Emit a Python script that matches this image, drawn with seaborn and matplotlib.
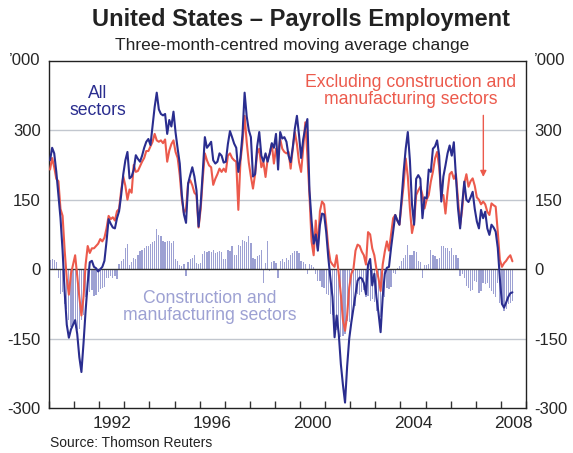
import pandas as pd
import seaborn as sns
import matplotlib.pyplot as plt

# Monthly, Jan 1990 - Jun 2008, '000 (three-month-centred average change)
all_sectors = [
    235, 262, 250, 210, 160, 110, 40, -50, -120, -148,
    -130, -120, -110, -140, -190, -222, -160, -90, -30, 15,
    18, 5, 2, -5, 0, 5, 18, 60, 108, 98,
    90, 88, 110, 125, 160, 205, 235, 253, 196, 200,
    215, 246, 238, 232, 245, 262, 275, 281, 268, 310,
    350, 381, 345, 335, 332, 335, 292, 322, 308, 340,
    295, 260, 228, 160, 118, 100, 185, 203, 220, 200,
    170, 92, 140, 210, 285, 262, 268, 275, 235, 228,
    232, 250, 245, 230, 232, 270, 298, 285, 271, 262,
    210, 240, 292, 381, 330, 300, 285, 200, 205, 265,
    296, 245, 232, 250, 232, 250, 272, 262, 292, 215,
    296, 282, 285, 275, 245, 231, 262, 303, 331, 290,
    240, 280, 305, 324, 170, 105, 55, 75, 40, 95,
    120, 118, 80, 25, -20, -60, -147, -100, -140, -205,
    -250, -288, -210, -150, -115, -85, -55, -25, -18, -20,
    -30, -54, 10, 22, -35, -10, -60, -95, -136, -60,
    -10, 3, 5, 46, 81, 117, 105, 96, 150, 210,
    260, 296, 235, 140, 96, 195, 203, 195, 110, 155,
    153, 215, 210, 260, 265, 278, 245, 146, 200, 224,
    250, 267, 245, 274, 200, 131, 88, 140, 189, 150,
    145, 155, 167, 130, 103, 88, 128, 110, 124, 88,
    74, 96, 90, 81, 46, -20, -75, -83, -72, -60,
    -52, -50]

excl_constr_manuf = [
    215, 240, 220, 195, 190, 130, 115, 40, -20, -55,
    -10, 10, 30, -15, -60, -100, -60, 10, 50, 35,
    45, 45, 50, 55, 65, 60, 68, 88, 115, 108,
    112, 105, 125, 130, 170, 200, 180, 150, 172, 165,
    225, 210, 212, 222, 232, 240, 255, 255, 265, 275,
    292, 278, 275, 278, 272, 280, 232, 256, 270, 278,
    253, 240, 203, 150, 121, 130, 185, 192, 181, 165,
    160, 90, 130, 196, 250, 235, 224, 220, 182, 195,
    205, 217, 210, 217, 210, 245, 250, 240, 235, 232,
    128, 232, 274, 331, 274, 230, 200, 174, 205, 250,
    260, 220, 231, 199, 238, 249, 270, 228, 260, 249,
    281, 260, 253, 250, 253, 217, 260, 296, 270, 231,
    210, 260, 317, 246, 160, 60, 30, 105, 45, 125,
    146, 140, 96, 46, 17, 10, 5, 30, -10, -55,
    -110, -133, -100, -40, -10, 0, 40, 53, 50, 38,
    30, 10, 80, 75, 45, 30, 0, -20, -47, 10,
    38, 60, 40, 75, 110, 117, 105, 96, 140, 181,
    239, 200, 131, 78, 100, 160, 170, 178, 160, 131,
    150, 160, 189, 210, 239, 253, 220, 160, 160, 120,
    167, 205, 210, 195, 205, 150, 95, 130, 185, 205,
    178, 190, 196, 180, 155, 150, 140, 146, 140, 124,
    117, 142, 138, 135, 81, 20, 5, 13, 18, 25,
    30, 17]

constr_manuf = [
    20, 22, 20, 15, -20, -54, -50, -75, -85, -110,
    -125, -120, -128, -132, -130, -110, -100, -60, -55, -50,
    -45, -58, -55, -50, -42, -40, -38, -20, -18, -15,
    -20, -15, -22, 12, 18, 22, 45, 54, 10, 15,
    25, 22, 30, 39, 42, 46, 50, 49, 55, 58,
    61, 86, 74, 72, 60, 58, 60, 61, 57, 60,
    21, 18, 8, 6, 11, -15, 15, 22, 25, 31,
    14, 12, 14, 32, 39, 38, 40, 36, 42, 35,
    38, 40, 36, 21, 22, 42, 40, 49, 31, 30,
    53, 50, 64, 60, 58, 71, 56, 24, 22, 28,
    30, 42, -29, 14, 60, -4, 15, 17, 14, -19,
    18, 22, 15, 24, 20, 30, 35, 39, 40, 35,
    18, 15, 11, -11, 11, 8, 4, -11, -25, -25,
    -39, -40, -54, -55, -96, -100, -120, -132, -135, -146,
    -145, -140, -111, -115, -110, -82, -80, -54, -55, -50,
    -46, -61, -58, -69, -65, -70, -90, -88, -104, -61,
    -60, -40, -42, -38, -8, -10, 3, 6, 17, 24,
    30, 53, 31, 30, 39, 38, 17, 15, -19, 10,
    10, 12, 42, 31, 28, 21, 24, 49, 50, 46,
    45, 40, 46, 31, 30, 24, -15, -10, -20, -36,
    -40, -47, -45, -26, -28, -51, -47, -30, -32, -30,
    -40, -47, -54, -61, -30, -72, -70, -90, -86, -76,
    -72, -69]

year_labels = ['1992', '1996', '2000', '2004', '2008']
y_ticks = [-300, -150, 0, 150, 300]

blue = '#2a2d8f'
red = '#ec5a4c'
lilac = '#9da1d3'
grid_col = '#c2c7cf'

months = pd.date_range('1990-01-01', periods=len(all_sectors), freq='MS')
df = pd.DataFrame({
    'year': months.year + (months.month - 0.5) / 12,
    'all': all_sectors,
    'excl': excl_constr_manuf,
    'cm': constr_manuf,
})

sns.set_theme(style='white')
plt.rcParams['font.family'] = ['Liberation Sans', 'DejaVu Sans']

fig = plt.figure(figsize=(5.73, 4.53), dpi=100)
ax = fig.add_axes([0.0855, 0.099, 0.8325, 0.767])

# grid lines first, zero line in dark grey
for v in [-150, 150, 300]:
    ax.axhline(v, color=grid_col, lw=1, zorder=0)

sns.barplot(data=df, x='year', y='cm', native_scale=True, color=lilac,
            saturation=1, width=0.6, linewidth=0, errorbar=None, ax=ax,
            zorder=1)
ax.axhline(0, color='#333333', lw=1, zorder=2)

sns.lineplot(data=df, x='year', y='excl', color=red, lw=1.5, ax=ax, zorder=3)
sns.lineplot(data=df, x='year', y='all', color=blue, lw=1.5, ax=ax, zorder=4)

ax.set_xlim(1990, 2009)
ax.set_ylim(-300, 450)
ax.set_xlabel('')
ax.set_ylabel('')

# y labels on both sides
ax.set_yticks(y_ticks)
ax.set_yticklabels([str(v) for v in y_ticks])
ax.tick_params(axis='y', length=0, labelsize=12, labelright=True,
               labelleft=True, pad=6)
ax.text(-0.017, 1.0, '\u2019000', transform=ax.transAxes, ha='right',
        va='center', fontsize=12)
ax.text(1.017, 1.0, '\u2019000', transform=ax.transAxes, ha='left',
        va='center', fontsize=12)

# year ticks inside, labels mid-year
ax.set_xticks(range(1990, 2010))
ax.set_xticklabels([])
ax.set_xticks([int(y) + 0.5 for y in year_labels], minor=True)
ax.set_xticklabels(year_labels, minor=True)
ax.tick_params(axis='x', which='major', direction='in', length=5, width=1,
               color='#333333', bottom=True, top=False)
ax.tick_params(axis='x', which='minor', length=0, labelsize=12.5, pad=6)

for s in ax.spines.values():
    s.set_color('#222222')
    s.set_linewidth(1)

# series labels
ax.text(1991.95, 360, 'All\nsectors', color=blue, fontsize=12.7,
        ha='center', va='center', linespacing=1.0)
ax.text(2004.4, 384, 'Excluding construction and\nmanufacturing sectors',
        color=red, fontsize=12.7, ha='center', va='center', linespacing=1.0)
ax.text(1996.4, -82, 'Construction and\nmanufacturing sectors', color=lilac,
        fontsize=12.7, ha='center', va='center', linespacing=1.0)
ax.annotate('', xy=(2007.3, 193), xytext=(2007.3, 338),
            arrowprops=dict(arrowstyle='-|>', color=red, lw=1,
                            mutation_scale=9))

fig.text(0.525, 0.958, 'United States \u2013 Payrolls Employment',
         ha='center', va='center', fontsize=17, fontweight='bold',
         color='#222222')
fig.text(0.509, 0.900, 'Three-month-centred moving average change',
         ha='center', va='center', fontsize=12.5, color='#222222')
fig.text(0.088, 0.022, 'Source: Thomson Reuters', ha='left', va='center',
         fontsize=10, color='#222222')

plt.savefig('out.png', dpi=100)
